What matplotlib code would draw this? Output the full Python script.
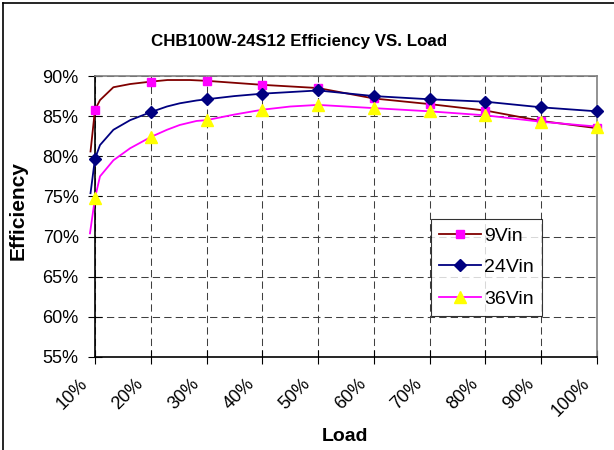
import numpy as np
import matplotlib.pyplot as plt
import matplotlib.transforms as mtransforms
from matplotlib.lines import Line2D

# ---------------------------------------------------------
# Data (load in %, efficiency in %)
# ---------------------------------------------------------
marks = [10, 20, 30, 40, 50, 60, 70, 80, 90, 100]
tick_labels = ["10%", "20%", "30%", "40%", "50%", "60%", "70%", "80%", "90%", "100%"]

load_9 = [9.2, 10, 10.9, 13.3, 16.3, 20, 23, 27, 30, 40, 50, 60, 70, 80, 90, 100]
eff_9 = [80.6, 85.8, 87.0, 88.6, 89.0, 89.3, 89.5, 89.5, 89.4, 88.9, 88.5, 87.2, 86.5, 85.7, 84.4, 83.5]

load_24 = [9.2, 10, 10.9, 13.3, 16.3, 20, 22.9, 25.2, 28.2, 30, 35, 40, 45, 50, 60, 70, 80, 90, 100]
eff_24 = [75.4, 79.7, 81.4, 83.3, 84.5, 85.5, 86.2, 86.6, 86.95, 87.1, 87.5, 87.8, 88.0, 88.2, 87.5, 87.1, 86.8, 86.1, 85.6]

load_36 = [9.1, 10, 10.9, 13.3, 16.3, 20, 22.9, 25.2, 28.2, 30, 35, 40, 45, 50, 60, 70, 80, 90, 100]
eff_36 = [70.4, 74.8, 77.5, 79.5, 81.0, 82.4, 83.3, 83.9, 84.4, 84.5, 85.2, 85.8, 86.2, 86.4, 86.0, 85.6, 85.1, 84.3, 83.7]


def mark_idx(xs):
    return [i for i, x in enumerate(xs) if x in marks]


def main():
    plt.rcParams['font.family'] = ['Liberation Sans', 'DejaVu Sans']

    fig = plt.figure(figsize=(6.14, 4.5), dpi=100)
    ax = fig.add_axes([0.1547, 0.2067, 0.8176, 0.6244])

    ax.plot(load_9, eff_9, color="#800000", lw=1.3, marker="s", markersize=6,
            markerfacecolor="#FF00FF", markeredgecolor="#FF00FF",
            markevery=mark_idx(load_9), clip_on=False, label="9Vin", zorder=3)
    ax.plot(load_24, eff_24, color="#000080", lw=1.3, marker="D", markersize=6,
            markerfacecolor="#000080", markeredgecolor="#000080",
            markevery=mark_idx(load_24), clip_on=False, label="24Vin", zorder=3)
    ax.plot(load_36, eff_36, color="#FF00FF", lw=1.3, marker="^", markersize=8,
            markerfacecolor="#FFFF00", markeredgecolor="#FFFF00",
            markevery=mark_idx(load_36), clip_on=False, label="36Vin", zorder=3)

    ax.set_xlim(10, 100)
    ax.set_ylim(55, 90)
    ax.set_xticks(marks)
    ax.set_xticklabels([])
    yt = np.arange(55, 91, 5)
    ax.set_yticks(yt)
    ax.set_yticklabels([f"{v}%" for v in yt], fontsize=13)
    ax.tick_params(direction="inout", length=9.5, width=0.8, color="black")
    ax.tick_params(axis="y", pad=7)

    # rotated x labels, placed like the Excel original
    shift = mtransforms.ScaledTranslation(-16 / 100, -18 / 100, fig.dpi_scale_trans)
    for x, lab in zip(marks, tick_labels):
        ax.text(x, 0, lab, transform=ax.get_xaxis_transform() + shift,
                rotation=45, ha="right", va="top", rotation_mode="anchor",
                fontsize=13)

    ax.grid(True, color="#404040", lw=0.75, linestyle=(0, (7, 4)))
    ax.set_axisbelow(True)

    ax.spines["left"].set_color("black")
    ax.spines["bottom"].set_color("black")
    ax.spines["top"].set_color("#808080")
    ax.spines["right"].set_color("#808080")
    for s in ax.spines.values():
        s.set_linewidth(1.2)

    ax.set_ylabel("Efficiency", fontsize=15, fontweight="bold")
    ax.yaxis.set_label_coords(-0.1335, 0.52)
    ax.set_xlabel("Load", fontsize=14, fontweight="bold")
    ax.xaxis.set_label_coords(0.499, -0.253)
    fig.text(0.487, 0.908, "CHB100W-24S12 Efficiency VS. Load", ha="center",
             va="center", fontsize=12.2, fontweight="bold")

    leg = ax.legend(loc="upper left", bbox_to_anchor=(0.669, 0.49), borderaxespad=0,
                    fontsize=14, frameon=True, fancybox=False, handlelength=2.16,
                    handletextpad=0.2, labelspacing=0.72, borderpad=0.4)
    leg.get_frame().set_edgecolor("black")
    leg.get_frame().set_linewidth(0.8)

    # outer frame (left and top only visible)
    fig.add_artist(Line2D([3 / 614, 3 / 614], [0, 1 - 3 / 450], color="black", lw=1.2))
    fig.add_artist(Line2D([3 / 614, 1], [1 - 3 / 450, 1 - 3 / 450], color="black", lw=1.2))

    fig.savefig("out.png", dpi=100)


if __name__ == "__main__":
    main()
